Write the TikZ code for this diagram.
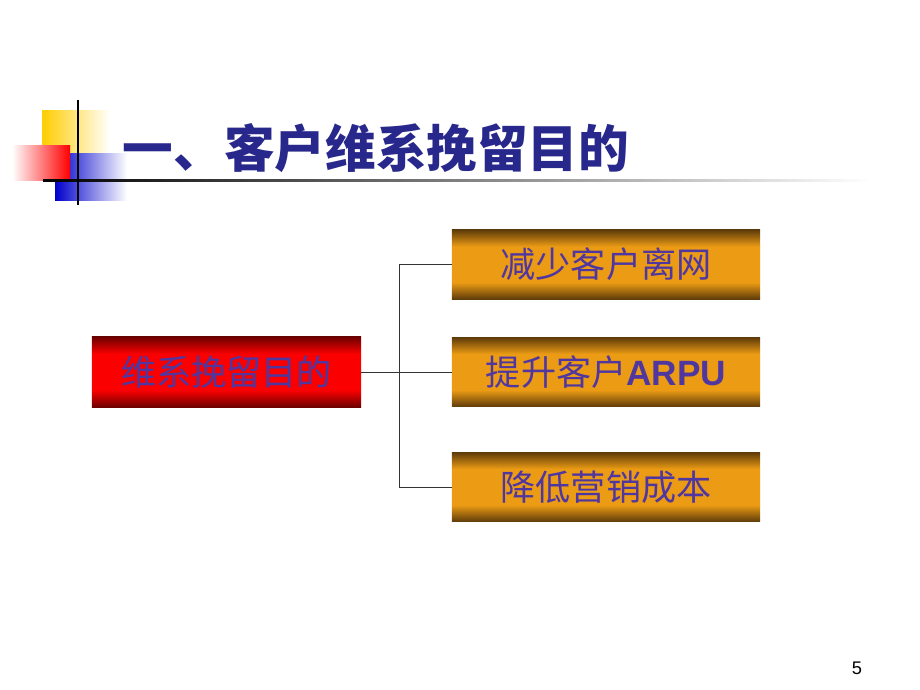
\documentclass[tikz,border=0pt]{standalone}
\usepackage{fontspec}
\setmainfont{Liberation Sans}
\newfontfamily\cjk{Noto Sans CJK SC}
\usetikzlibrary{shadings}

\definecolor{titre}{RGB}{40,40,140}
\definecolor{encre}{RGB}{80,55,160}
\definecolor{rouge}{RGB}{250,0,0}
\definecolor{rougefonce}{RGB}{110,0,0}
\definecolor{or}{RGB}{235,155,20}
\definecolor{brun}{RGB}{95,60,10}
\definecolor{jaune}{RGB}{255,205,0}

\pgfdeclareverticalshading{barrerouge}{100bp}{color(0bp)=(rougefonce);
	color(25bp)=(rougefonce); color(37bp)=(rouge); color(63bp)=(rouge);
	color(75bp)=(rougefonce); color(100bp)=(rougefonce)}
\pgfdeclareverticalshading{barreor}{100bp}{color(0bp)=(brun);
	color(25bp)=(brun); color(37bp)=(or); color(63bp)=(or);
	color(75bp)=(brun); color(100bp)=(brun)}

\begin{document}
\begin{tikzpicture}[x=0.025cm,y=-0.025cm]
	\useasboundingbox (0,0) rectangle (920,690);

	\tikzstyle{but}=[rectangle, minimum width=6.725cm, minimum height=1.75cm,
	shading=barrerouge, text=encre, font=\cjk\fontsize{25}{28}\selectfont]
	\tikzstyle{effet}=[rectangle, minimum width=7.7cm, minimum height=1.73cm,
	shading=barreor, text=encre, font=\cjk\fontsize{25}{28}\selectfont]
	\tikzstyle{lien}=[draw=black!80, line width=0.6pt]

	% titre
	\shade[left color=jaune, right color=white] (42,110) rectangle (110,153);
	\shade[left color=blue!80!black, right color=white] (55,153) rectangle (127,200);
	\shade[left color=white, right color=red] (12,145) rectangle (70,180);
	\shade[left color=black, right color=white] (43,179) rectangle (870,181.5);
	\draw[black, line width=1.5pt] (78,100) -- (78,205);
	\node[text=titre, font=\cjk\bfseries\fontsize{36}{40}\selectfont, anchor=west]
	(titre) at (118,148) {一、客户维系挽留目的};

	% boites
	\node[but] (purpose) at (226.5,372) {维系挽留目的};
	\node[effet] (churn) at (606,264.5) {减少客户离网};
	\node[effet] (arpu) at (606,372) {提升客户{\normalfont\bfseries ARPU}};
	\node[effet] (cost) at (606,487) {降低营销成本};

	\coordinate (fork) at (399,372);
	\draw[lien] (purpose.east) -- (fork);
	\draw[lien] (fork) |- (churn.west);
	\draw[lien] (fork) -- (arpu.west);
	\draw[lien] (fork) |- (cost.west);

	\node[font=\fontsize{13}{15}\selectfont] (page) at (857,668) {5};
\end{tikzpicture}
\end{document}
